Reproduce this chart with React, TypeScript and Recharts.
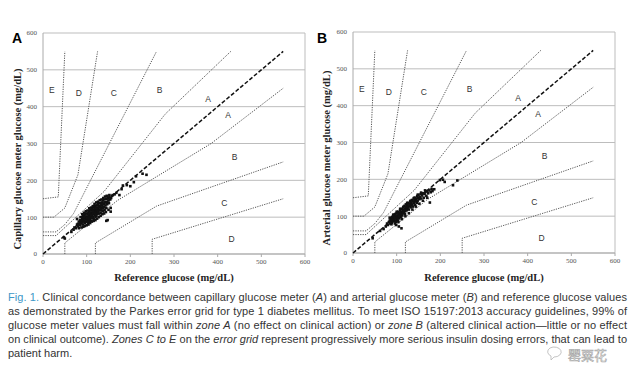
import { ScatterChart, Scatter, XAxis, YAxis, CartesianGrid, ReferenceLine } from "recharts";

const ticks = [0, 100, 200, 300, 400, 500, 600];

// Parkes error grid, type 1 diabetes – zone boundaries (mg/dL)
const upperA = [{ x: 0, y: 50 }, { x: 30, y: 50 }, { x: 140, y: 170 }, { x: 280, y: 380 }, { x: 430, y: 550 }];
const lowerA = [{ x: 50, y: 0 }, { x: 50, y: 30 }, { x: 170, y: 145 }, { x: 385, y: 300 }, { x: 550, y: 450 }];
const upperB = [{ x: 0, y: 60 }, { x: 30, y: 60 }, { x: 50, y: 80 }, { x: 70, y: 110 }, { x: 260, y: 550 }];
const lowerB = [{ x: 120, y: 0 }, { x: 120, y: 30 }, { x: 260, y: 130 }, { x: 550, y: 250 }];
const upperC = [{ x: 0, y: 100 }, { x: 25, y: 100 }, { x: 50, y: 125 }, { x: 80, y: 215 }, { x: 125, y: 550 }];
const lowerC = [{ x: 250, y: 0 }, { x: 250, y: 40 }, { x: 550, y: 150 }];
const upperD = [{ x: 0, y: 150 }, { x: 35, y: 155 }, { x: 50, y: 550 }];
const identity = [{ x: 0, y: 0 }, { x: 550, y: 550 }];

const zoneLabels = [
  { x: 20, y: 445, label: "E" },
  { x: 82, y: 438, label: "D" },
  { x: 162, y: 438, label: "C" },
  { x: 267, y: 445, label: "B" },
  { x: 378, y: 420, label: "A" },
  { x: 424, y: 377, label: "A" },
  { x: 439, y: 262, label: "B" },
  { x: 415, y: 138, label: "C" },
  { x: 432, y: 41, label: "D" },
];

// capillary meter vs reference (panel A)
const capillaryX = [48, 50, 65, 70, 72, 75, 78, 80, 80, 82, 84, 85, 85, 86, 88, 88, 90, 90, 90, 92, 92, 93, 94, 95, 95, 96, 97, 98, 98, 99, 100, 100, 100, 101, 102, 102, 103, 104, 104, 105, 105, 106, 106, 107, 108, 108, 109, 110, 110, 110, 111, 112, 112, 113, 114, 114, 115, 115, 116, 116, 117, 118, 118, 119, 120, 120, 120, 121, 122, 123, 124, 124, 125, 126, 126, 127, 128, 128, 129, 130, 130, 131, 132, 133, 134, 135, 135, 136, 137, 138, 139, 140, 140, 141, 142, 143, 144, 145, 145, 146, 147, 148, 148, 150, 151, 152, 154, 155, 156, 158, 160, 164, 168, 175, 180, 183, 192, 200, 208, 213, 228, 237, 92, 96, 104, 108, 112, 118, 122, 126, 132, 138,
  78, 82, 86, 88, 90, 92, 94, 96, 98, 100, 102, 104, 106, 108, 110, 112, 114, 116, 118, 120, 122, 124, 126, 128, 130, 132, 134, 136, 138, 140, 142, 144, 146, 150, 152, 155, 105, 115, 125, 135, 145, 95, 100, 110];
const capillaryY = [45, 42, 60, 66, 72, 70, 80, 75, 82, 88, 78, 85, 92, 80, 90, 84, 95, 86, 100, 92, 80, 88, 98, 90, 105, 84, 95, 100, 88, 110, 95, 102, 88, 92, 108, 98, 85, 100, 112, 94, 104, 90, 116, 100, 108, 95, 120, 102, 112, 90, 98, 118, 106, 125, 100, 112, 108, 120, 95, 128, 115, 105, 122, 130, 110, 118, 100, 126, 114, 132, 108, 120, 126, 115, 136, 122, 130, 110, 118, 128, 138, 120, 112, 132, 125, 140, 118, 130, 145, 124, 136, 128, 148, 120, 140, 132, 150, 125, 90, 142, 135, 152, 92, 145, 138, 155, 148, 115, 152, 158, 160, 162, 166, 160, 176, 186, 187, 184, 195, 211, 218, 215, 104, 108, 96, 118, 98, 112, 104, 134, 122, 116,
  95, 70, 100, 72, 108, 74, 112, 76, 116, 78, 118, 80, 124, 84, 126, 88, 130, 90, 136, 92, 140, 96, 142, 100, 146, 104, 148, 108, 152, 110, 156, 114, 158, 120, 160, 125, 110, 115, 110, 135, 140, 100, 98, 105];

// arterial meter vs reference (panel B)
const arterialX = [45, 62, 70, 75, 78, 80, 82, 84, 85, 86, 87, 88, 89, 90, 90, 91, 92, 93, 93, 94, 95, 96, 96, 97, 98, 99, 99, 100, 100, 101, 102, 103, 103, 104, 105, 105, 106, 107, 107, 108, 109, 110, 110, 111, 112, 112, 113, 114, 115, 115, 116, 117, 118, 119, 120, 120, 121, 122, 123, 124, 125, 126, 127, 128, 129, 130, 131, 132, 133, 134, 135, 136, 137, 138, 139, 140, 141, 142, 143, 144, 145, 146, 147, 148, 149, 150, 152, 153, 155, 156, 158, 160, 162, 164, 166, 168, 170, 172, 175, 176, 178, 180, 182, 186, 199, 206, 210, 229, 239, 94, 98, 102, 106, 110, 114, 118,
  84, 88, 92, 96, 100, 104, 108, 112, 116, 120, 124, 128, 132, 136, 140, 144, 148, 152, 156, 160, 165, 170, 95, 105, 115, 125];
const arterialY = [40, 60, 65, 72, 80, 76, 84, 88, 80, 92, 86, 95, 82, 90, 98, 86, 94, 100, 88, 104, 92, 98, 86, 106, 94, 100, 76, 90, 108, 96, 102, 88, 112, 98, 106, 72, 94, 110, 100, 116, 104, 98, 112, 67, 108, 120, 102, 114, 108, 124, 118, 112, 128, 106, 120, 114, 132, 124, 116, 130, 122, 136, 126, 118, 134, 128, 140, 124, 136, 130, 144, 132, 126, 140, 148, 136, 144, 130, 150, 140, 146, 136, 154, 142, 150, 158, 146, 152, 160, 148, 156, 162, 150, 160, 166, 155, 168, 162, 170, 137, 165, 174, 168, 173, 198, 199, 193, 184, 197, 96, 84, 94, 102, 104, 110, 116,
  96, 78, 104, 80, 112, 84, 120, 92, 126, 100, 136, 108, 142, 118, 150, 126, 158, 134, 164, 142, 170, 150, 95, 100, 110, 125];

const toPoints = (xs: number[], ys: number[]) => xs.map((x, i) => ({ x, y: ys[i] }));

const boundaryStyle = { stroke: "#555", strokeWidth: 1, strokeDasharray: "1.2 1.2" };
const axisTick = { fontSize: 7, fill: "#555", fontFamily: "Liberation Serif" };
const noShape = () => <g />;

function Panel({ data, marginLeft, marginRight, marginTop, marginBottom, yWidth }: any) {
  return (
    <ScatterChart
      width={320}
      height={290}
      margin={{ top: marginTop, right: marginRight, bottom: marginBottom, left: marginLeft }}
    >
      <CartesianGrid vertical={false} stroke="#bdbdbd" />
      <XAxis
        type="number"
        dataKey="x"
        domain={[0, 600]}
        ticks={ticks}
        height={14}
        tick={axisTick}
        tickSize={3}
        tickMargin={2}
        stroke="#aaa"
      />
      <YAxis
        type="number"
        dataKey="y"
        domain={[0, 600]}
        ticks={ticks}
        width={yWidth}
        tick={axisTick}
        tickLine={false}
        tickSize={4}
        tickMargin={2}
        stroke="#aaa"
      />
      <ReferenceLine x={600} stroke="#bdbdbd" />
      {[upperA, lowerA, upperB, lowerB, upperC, lowerC, upperD].map((d, i) => (
        <Scatter key={i} data={d} line={boundaryStyle} shape={noShape} isAnimationActive={false} />
      ))}
      <Scatter
        data={identity}
        line={{ stroke: "#111", strokeWidth: 1.5, strokeDasharray: "4 2" }}
        shape={noShape}
        isAnimationActive={false}
      />
      <Scatter
        data={data}
        isAnimationActive={false}
        shape={(p: any) => <rect x={p.cx - 1.3} y={p.cy - 1.3} width={2.6} height={2.6} fill="#111" />}
      />
      <Scatter
        data={zoneLabels}
        isAnimationActive={false}
        shape={(p: any) => (
          <text
            x={p.cx}
            y={p.cy}
            textAnchor="middle"
            dominantBaseline="central"
            fontSize={8.5}
            fontFamily="Liberation Sans"
            fill="#333"
          >
            {p.payload.label}
          </text>
        )}
      />
    </ScatterChart>
  );
}

const titleStyle: any = {
  position: "absolute",
  fontFamily: "Liberation Serif",
  fontWeight: "bold",
  fontSize: 10.5,
  color: "#222",
  whiteSpace: "nowrap",
};

export default function App() {
  const blue = "#3d97c7";
  return (
    <div style={{ position: "fixed", left: 0, top: 0, width: 640, height: 367, background: "#fff", overflow: "hidden" }}>
      <div style={{ position: "absolute", left: 0, top: 0 }}>
        <Panel data={toPoints(capillaryX, capillaryY)} marginLeft={5} marginRight={15} marginTop={33} marginBottom={22} yWidth={38} />
      </div>
      <div style={{ position: "absolute", left: 320, top: 0 }}>
        <Panel data={toPoints(arterialX, arterialY)} marginLeft={5} marginRight={25} marginTop={32} marginBottom={23} yWidth={28} />
      </div>

      <div style={{ position: "absolute", left: 12, top: 30, fontFamily: "Liberation Sans", fontWeight: "bold", fontSize: 14 }}>A</div>
      <div style={{ position: "absolute", left: 317, top: 30, fontFamily: "Liberation Sans", fontWeight: "bold", fontSize: 14 }}>B</div>

      <div style={{ ...titleStyle, left: 174, top: 277, transform: "translate(-50%, -50%)" }}>Reference glucose (mg/dL)</div>
      <div style={{ ...titleStyle, left: 484, top: 277, transform: "translate(-50%, -50%)" }}>Reference glucose (mg/dL)</div>
      <div style={{ ...titleStyle, left: 17, top: 159, transform: "translate(-50%, -50%) rotate(-90deg)" }}>
        Capillary glucose meter glucose (mg/dL)
      </div>
      <div style={{ ...titleStyle, left: 326, top: 158, transform: "translate(-50%, -50%) rotate(-90deg)" }}>
        Arterial glucose meter glucose (mg/dL)
      </div>

      <svg width={640} height={82} style={{ position: "absolute", left: 0, top: 285 }}>
        <g fontFamily="Liberation Sans" fontSize={11} fill="#333">
          <text x={8} y={16} textLength={619} lengthAdjust="spacing">
            <tspan fill={blue}>Fig. 1.</tspan> Clinical concordance between capillary glucose meter (<tspan fontStyle="italic">A</tspan>) and arterial glucose meter (<tspan fontStyle="italic">B</tspan>) and reference glucose values
          </text>
          <text x={8} y={30} textLength={619} lengthAdjust="spacing">
            as demonstrated by the Parkes error grid for type 1 diabetes mellitus. To meet ISO 15197:2013 accuracy guidelines, 99% of
          </text>
          <text x={8} y={44} textLength={619} lengthAdjust="spacing">
            glucose meter values must fall within <tspan fontStyle="italic">zone A</tspan> (no effect on clinical action) or <tspan fontStyle="italic">zone B</tspan> (altered clinical action—little or no effect
          </text>
          <text x={8} y={58} textLength={619} lengthAdjust="spacing">
            on clinical outcome). <tspan fontStyle="italic">Zones C to E</tspan> on the <tspan fontStyle="italic">error grid</tspan> represent progressively more serious insulin dosing errors, that can lead to
          </text>
          <text x={8} y={72}>patient harm.</text>
        </g>
        <g opacity={0.85}>
          <path d="M550 63 a7 5 0 1 1 4 9 l-3 3 l0 -4 a7 5 0 0 1 -1 -8 z" fill="#fff" stroke="#aaa" strokeWidth={0.8} />
          <text x={568} y={75} fontSize={13} fontFamily="Noto Sans CJK SC" fill="#fff" stroke="#999" strokeWidth={0.6}>
            罂粟花
          </text>
        </g>
      </svg>
    </div>
  );
}
